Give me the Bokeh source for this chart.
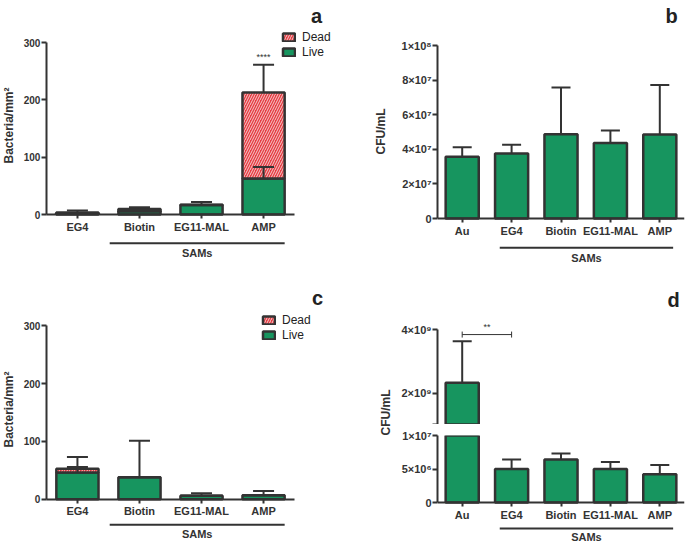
import math
from bokeh.plotting import figure
from bokeh.models import (FactorRange, Range1d, FixedTicker, Legend, LegendItem, Label,
                          ColumnDataSource, CDSView, BooleanFilter)
from bokeh.layouts import row, column
from bokeh.embed import file_html
from bokeh.resources import INLINE

# ---------------- data ----------------
ac_cats = ["EG4", "Biotin", "EG11-MAL", "AMP"]
a_live = [2.0, 5.5, 16.5, 63.0]
a_dead = [1.5, 4.0, 0.5, 150.0]
a_total_err = [7.0, 12.5, 22.0, 261.0]
a_live_err = [float("nan"), float("nan"), float("nan"), 83.0]
a_sig_cat = ["AMP"]
a_sig_y = [274.0]
a_sig_text = ["****"]

c_live = [46.0, 38.0, 6.0, 7.0]
c_dead = [6.5, 0.0, 0.0, 0.0]
c_total_err = [73.0, 101.0, 10.5, 14.0]
c_live_err = [55.5, float("nan"), float("nan"), float("nan")]

bd_cats = ["Au", "EG4", "Biotin", "EG11-MAL", "AMP"]
b_vals = [3.57e7, 3.76e7, 4.87e7, 4.37e7, 4.86e7]
b_err = [4.12e7, 4.26e7, 7.57e7, 5.09e7, 7.71e7]

d_vals = [2.33e9, 5.0e6, 6.4e6, 5.0e6, 4.2e6]
d_err = [3.64e9, 6.4e6, 7.3e6, 6.05e6, 5.6e6]
d_sig_from = ["Au"]
d_sig_to = ["EG4"]
d_sig_y = [3.85e9]
d_sig_text = ["**"]

ac_yticks = [0, 100, 200, 300]
b_yticks = [0, 20000000, 40000000, 60000000, 80000000, 100000000]
b_ylabels = {0: "0", 20000000: "2\u00d710\u2077", 40000000: "4\u00d710\u2077",
             60000000: "6\u00d710\u2077", 80000000: "8\u00d710\u2077",
             100000000: "1\u00d710\u2078"}
d_up_ticks = [2000000000, 4000000000]
d_up_labels = {2000000000: "2\u00d710\u2079", 4000000000: "4\u00d710\u2079"}
d_low_ticks = [0, 5000000, 10000000]
d_low_labels = {0: "0", 5000000: "5\u00d710\u2076", 10000000: "1\u00d710\u2077"}
d_break = 1.013e9   # bottom of the upper segment of the broken axis
d_low_max = 1e7     # top of the lower segment

FONT = "Liberation Sans"
INK = "#333333"
GREEN = "#17955f"
RED = "#e63c43"
HATCH = "#f3cccc"


def style_fig(p):
    p.outline_line_color = None
    p.xgrid.grid_line_color = None
    p.ygrid.grid_line_color = None
    p.background_fill_color = "white"
    p.border_fill_color = "white"


def style_y(ax, ticks, overrides=None, bounds=None, size="10px", minor=None):
    ax.ticker = FixedTicker(ticks=ticks, minor_ticks=minor or [])
    if overrides:
        ax.major_label_overrides = overrides
    if bounds is not None:
        ax.bounds = bounds
    ax.axis_line_width = 2
    ax.axis_line_color = INK
    ax.major_tick_line_width = 2
    ax.major_tick_line_color = INK
    ax.major_tick_out = 5
    ax.major_tick_in = 0
    if minor:
        ax.minor_tick_line_color = INK
        ax.minor_tick_line_width = 2
        ax.minor_tick_out = 5
        ax.minor_tick_in = 0
    else:
        ax.minor_tick_line_color = None
    ax.major_label_text_font = FONT
    ax.major_label_text_font_style = "bold"
    ax.major_label_text_font_size = size
    ax.major_label_text_color = INK
    ax.major_label_standoff = 1


def style_x(ax, bounds=None):
    ax.fixed_location = 0
    if bounds is not None:
        ax.bounds = bounds
    ax.axis_line_width = 2
    ax.axis_line_color = INK
    ax.major_tick_out = 4
    ax.major_tick_in = 0
    ax.major_tick_line_width = 2
    ax.major_tick_line_color = INK
    ax.major_label_text_font = FONT
    ax.major_label_text_font_style = "bold"
    ax.major_label_text_font_size = "11px"
    ax.major_label_text_color = INK
    ax.major_label_standoff = 2


def sams_bracket(p, x0, x1, y_line, y_text):
    p.segment(x0=[x0], y0=[y_line], x1=[x1], y1=[y_line], line_color=INK, line_width=2)
    p.text(x=[(x0 + x1) / 2], y=[y_text], text=["SAMs"], text_font={"value": FONT},
           text_font_style="bold", text_font_size="11px", text_color=INK,
           text_align="center", text_baseline="middle")


def add_label(p, text, x, y, size="20px", angle=0.0, color="#222222", style="bold"):
    p.add_layout(Label(x=x, y=y, x_units="screen", y_units="screen", text=text, angle=angle,
                       text_font=FONT, text_font_style=style, text_font_size=size,
                       text_color=color, text_align="center",
                       text_baseline="alphabetic" if angle == 0 else "middle"))


def stacked_panel(W, H, y0_px, y300_px, live, dead, tot_err, live_err, letter, letter_xy,
                  ylab_xy, legend_xy, sams_px, sig=None):
    scale = (y0_px - y300_px) / 300.0          # pixels per unit
    yr = Range1d(-(H - y0_px) / scale, 300 + y300_px / scale)
    total = [l + d for l, d in zip(live, dead)]
    src = ColumnDataSource(dict(cat=ac_cats, live=live, total=total,
                                tot_err=tot_err, live_err=live_err))
    p = figure(width=W, height=H,
               x_range=FactorRange(factors=ac_cats, range_padding=0.37),
               y_range=yr, output_backend="svg", toolbar_location=None,
               min_border_left=0, min_border_right=0, min_border_top=0, min_border_bottom=0)
    style_fig(p)
    live_r = p.vbar(x="cat", bottom=0, top="live", width=0.68, source=src,
                    fill_color=GREEN, line_color=INK, line_width=2.5)
    dead_r = p.vbar(x="cat", bottom="live", top="total", width=0.68, source=src,
                    fill_color=RED, line_color=INK, line_width=2.5,
                    hatch_pattern="/", hatch_color=HATCH, hatch_scale=5, hatch_weight=1.0)
    p.segment(x0="cat", y0="total", x1="cat", y1="tot_err", source=src, line_color=INK, line_width=2)
    p.scatter(x="cat", y="tot_err", marker="dash", size=21, source=src, line_color=INK, line_width=2)
    p.segment(x0="cat", y0="live", x1="cat", y1="live_err", source=src, line_color=INK, line_width=2)
    p.scatter(x="cat", y="live_err", marker="dash", size=21, source=src, line_color=INK, line_width=2)
    if sig:
        p.text(x=sig[0], y=sig[1], text=sig[2], text_font_size="9px", text_align="center",
               text_baseline="middle", text_color=INK)
    style_y(p.yaxis[0], ac_yticks, bounds=(0, 300))
    p.yaxis[0].fixed_location = 0
    style_x(p.xaxis[0], bounds=(0, len(ac_cats)))
    sams_bracket(p, 1.02, 3.84, -sams_px[0] / scale, -sams_px[1] / scale)
    legend = Legend(items=[LegendItem(label="Dead", renderers=[dead_r]),
                           LegendItem(label="Live", renderers=[live_r])],
                    location=legend_xy, glyph_width=15, glyph_height=10, label_height=12,
                    label_standoff=6, spacing=1, padding=0, margin=0,
                    border_line_alpha=0, background_fill_alpha=0,
                    label_text_font=FONT, label_text_font_size="12px", label_text_color="#222222")
    p.add_layout(legend)
    add_label(p, letter, *letter_xy)
    add_label(p, "Bacteria/mm\u00b2", ylab_xy[0], ylab_xy[1], size="12px", angle=math.pi / 2,
              color=INK)
    return p


pa = stacked_panel(340, 270, 214.0, 42.0, a_live, a_dead, a_total_err, a_live_err,
                   "a", (316, 255), (8, 145), (281, 211), (28.7, 38.0),
                   sig=(a_sig_cat, a_sig_y, a_sig_text))
pc = stacked_panel(340, 272, 228.7, 55.3, c_live, c_dead, c_total_err, c_live_err,
                   "c", (317, 245), (8, 133), (261, 200), (25.6, 35.0))


def ylabel_fig(W, H, x, y):
    f = figure(width=W, height=H, x_range=Range1d(0, W), y_range=Range1d(0, H),
               output_backend="svg", toolbar_location=None, x_axis_location=None,
               y_axis_location=None, min_border=0)
    style_fig(f)
    f.add_layout(Label(x=x, y=y, text="CFU/mL", angle=math.pi / 2, text_align="center",
                       text_baseline="middle", text_font=FONT, text_font_style="bold",
                       text_font_size="12px", text_color=INK))
    return f


# ---------------- panel b ----------------
b_scale = 173.0 / 1e8          # px per unit
bsrc = ColumnDataSource(dict(cat=bd_cats, val=b_vals, err=b_err))
pb = figure(width=290, height=270, x_range=FactorRange(factors=bd_cats, range_padding=0),
            y_range=Range1d(-52.0 / b_scale, 1e8 + 45.0 / b_scale),
            output_backend="svg", toolbar_location=None,
            min_border_left=42, min_border_right=1, min_border_top=0, min_border_bottom=0)
style_fig(pb)
pb.vbar(x="cat", bottom=0, top="val", width=0.67, source=bsrc,
        fill_color=GREEN, line_color=INK, line_width=2.5)
pb.segment(x0="cat", y0="val", x1="cat", y1="err", source=bsrc, line_color=INK, line_width=2)
pb.scatter(x="cat", y="err", marker="dash", size=19, source=bsrc, line_color=INK, line_width=2)
style_y(pb.yaxis[0], b_yticks, overrides=b_ylabels, bounds=(0, 1e8), size="11px")
style_x(pb.xaxis[0])
sams_bracket(pb, 1.26, 4.77, -29.3 / b_scale, -39.0 / b_scale)
add_label(pb, "b", 234, 255)
lab_b = ylabel_fig(55, 270, 40, 139)

# ---------------- panel d (broken axis) ----------------
up_scale = 31.7 / 1e9
low_scale = 67.0 / 1e7
d_x = FactorRange(factors=bd_cats, range_padding=0)
# bars that cross the break are cut a few pixels beyond each segment's edge
d_up_bottom = d_break - 6.0 / up_scale
d_low_top = [min(v, d_low_max + 6.0 / low_scale) for v in d_vals]
dsrc = ColumnDataSource(dict(cat=bd_cats, val=d_vals, err=d_err, low_top=d_low_top))
up_view = CDSView(filter=BooleanFilter([v > d_break for v in d_vals]))
low_view = CDSView(filter=BooleanFilter([v <= d_low_max for v in d_vals]))

d_up = figure(width=290, height=154, x_range=d_x,
              y_range=Range1d(d_break, d_break + 154.0 / up_scale),
              output_backend="svg", toolbar_location=None, x_axis_location=None,
              min_border_left=42, min_border_right=1, min_border_top=0, min_border_bottom=0)
d_low = figure(width=290, height=118, x_range=d_x,
               y_range=Range1d(-40.0 / low_scale, d_low_max),
               output_backend="svg", toolbar_location=None,
               min_border_left=42, min_border_right=1, min_border_top=11, min_border_bottom=0)

style_fig(d_up)
d_up.vbar(x="cat", bottom=d_up_bottom, top="val", width=0.67, source=dsrc, view=up_view,
          fill_color=GREEN, line_color=INK, line_width=2.5)
d_up.segment(x0="cat", y0="val", x1="cat", y1="err", source=dsrc, view=up_view,
             line_color=INK, line_width=2)
d_up.scatter(x="cat", y="err", marker="dash", size=19, source=dsrc, view=up_view,
             line_color=INK, line_width=2)

style_fig(d_low)
d_low.vbar(x="cat", bottom=0, top="low_top", width=0.67, source=dsrc,
           fill_color=GREEN, line_color=INK, line_width=2.5)
d_low.segment(x0="cat", y0="val", x1="cat", y1="err", source=dsrc, view=low_view,
              line_color=INK, line_width=2)
d_low.scatter(x="cat", y="err", marker="dash", size=19, source=dsrc, view=low_view,
              line_color=INK, line_width=2)

style_y(d_up.yaxis[0], d_up_ticks, overrides=d_up_labels, bounds=(d_break, 4e9), size="11px",
        minor=[d_break])
style_y(d_low.yaxis[0], d_low_ticks, overrides=d_low_labels, bounds=(0, d_low_max), size="11px")
style_x(d_low.xaxis[0])
sams_bracket(d_low, 1.26, 4.77, -26.0 / low_scale, -34.5 / low_scale)

sigsrc = ColumnDataSource(dict(x0=d_sig_from, x1=d_sig_to, y=d_sig_y, t=d_sig_text))
d_up.segment(x0="x0", y0="y", x1="x1", y1="y", source=sigsrc, line_color=INK, line_width=1)
d_up.scatter(x="x0", y="y", marker="dash", angle=math.pi / 2, size=6, source=sigsrc,
             line_color=INK, line_width=1)
d_up.scatter(x="x1", y="y", marker="dash", angle=math.pi / 2, size=6, source=sigsrc,
             line_color=INK, line_width=1)
d_up.text(x=[1.0], y=[4.1e9], text=d_sig_text, text_font_size="9px", text_align="center",
          text_baseline="middle", text_color=INK)
add_label(d_up, "d", 236, 125)
lab_d = ylabel_fig(55, 272, 45.5, 130)

layout = row(column(pa, pc),
             column(row(lab_b, pb), row(lab_d, column(d_up, d_low))))

open("out.html", "w").write(file_html(layout, INLINE))
